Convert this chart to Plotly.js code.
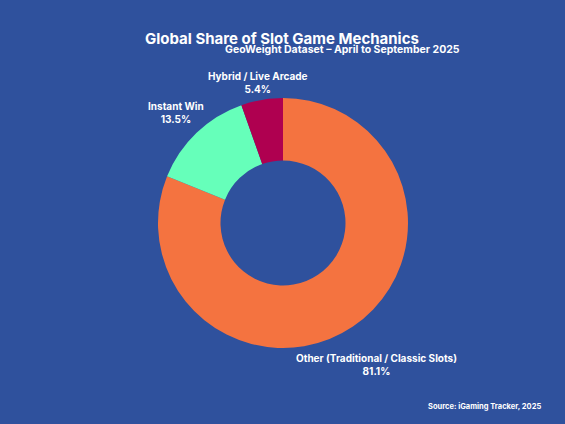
<!DOCTYPE html>
<html><head><meta charset="utf-8">
<script src="https://cdn.plot.ly/plotly-3.0.1.min.js"></script>
<style>html,body{margin:0;padding:0;background:#2F519D;}#chart{width:565px;height:424px;}</style>
</head><body><div id="chart"></div>
<script>
const labels = ["Other (Traditional / Classic Slots)", "Instant Win", "Hybrid / Live Arcade"];
const shares = [81.1, 13.5, 5.4];
const colors = ["#F47340", "#66FFBA", "#AF0050"];
const titleText = "Global Share of Slot Game Mechanics";
const subtitleText = "GeoWeight Dataset – April to September 2025";
const sourceText = "Source: iGaming Tracker, 2025";

// label anchor positions (paper coordinates of the pie domain)
const labelPos = [[0.731, -0.066], [0.236, 0.942], [0.438, 1.06]];

const font = "Inter, 'Open Sans', sans-serif";
const total = shares.reduce((a, b) => a + b, 0);
const labelAnns = labels.map((l, i) => ({
  text: "<b>" + l + "</b><br><b>" + (shares[i] / total * 100).toFixed(1) + "%</b>",
  xref: "paper", yref: "paper", x: labelPos[i][0], y: labelPos[i][1],
  xanchor: "center", yanchor: "middle", align: "center", showarrow: false,
  font: {color: "#FFFFFF", size: 10, family: font}
}));

Plotly.newPlot("chart", [{
  type: "pie",
  labels: labels,
  values: shares,
  hole: 0.5,
  sort: false,
  direction: "clockwise",
  rotation: 0,
  marker: {colors: colors, line: {color: "#2F519D", width: 0}},
  textinfo: "none",
  textposition: "none",
  showlegend: false,
  hoverinfo: "label+percent"
}], {
  width: 565, height: 424,
  paper_bgcolor: "#2F519D",
  plot_bgcolor: "#2F519D",
  margin: {l: 80, r: 79, t: 98, b: 76},
  title: {text: "<b>" + titleText + "</b>", x: 0.499, xanchor: "center", y: 0.908, yanchor: "middle",
          font: {color: "#FFFFFF", size: 15, family: font}},
  annotations: labelAnns.concat([
    {text: "<b>" + subtitleText + "</b>", xref: "paper", yref: "paper", x: 0.941, y: 1.196, xanchor: "right", yanchor: "middle",
     showarrow: false, font: {color: "#FFFFFF", size: 10.5, family: font}},
    {text: "<b>" + sourceText + "</b>", xref: "paper", yref: "paper", x: 1.14, y: -0.232, xanchor: "right", yanchor: "middle",
     showarrow: false, font: {color: "#FFFFFF", size: 7.5, family: font}}
  ])
}, {displayModeBar: false});
</script></body></html>
